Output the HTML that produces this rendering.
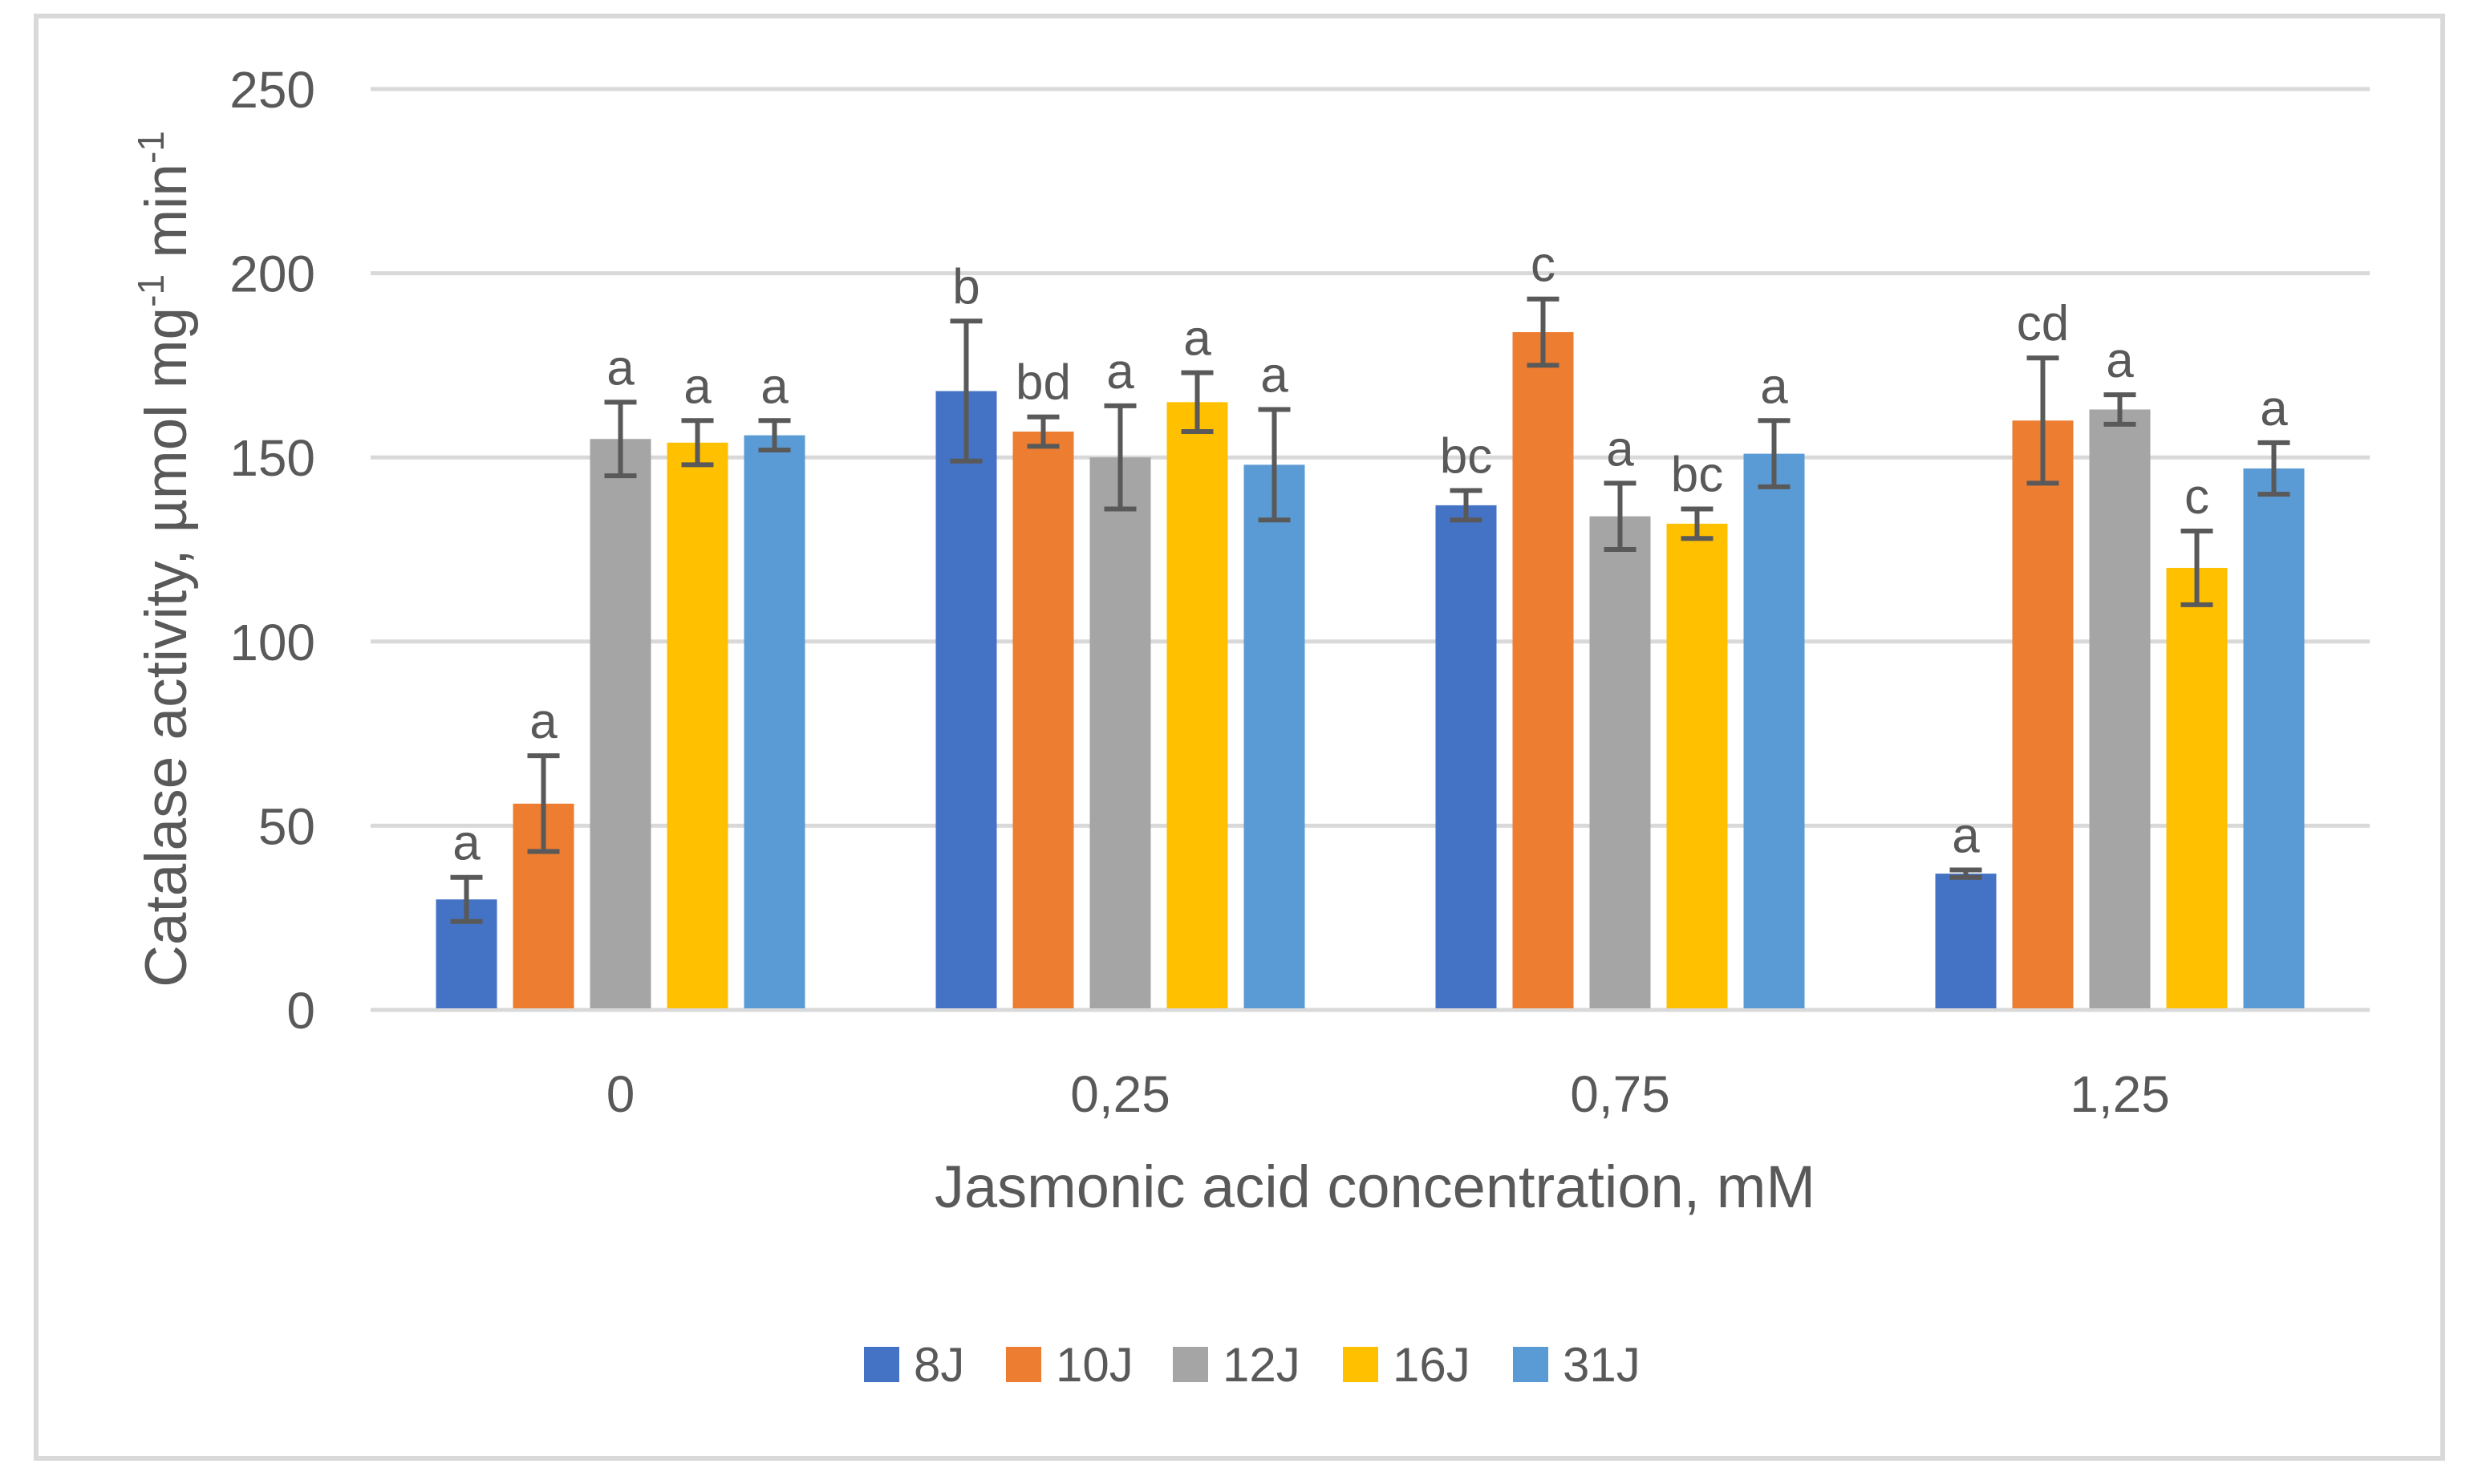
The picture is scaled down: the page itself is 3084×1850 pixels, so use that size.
<!DOCTYPE html>
<html><head><meta charset="utf-8"><style>
html,body{margin:0;padding:0;background:#fff}
svg{display:block}
text{font-family:"Liberation Sans","DejaVu Sans",sans-serif;fill:#595959}
</style></head><body>
<svg id="chart" width="3084" height="1850" viewBox="0 0 3084 1850" xmlns="http://www.w3.org/2000/svg">
<rect x="45" y="20" width="3000" height="1798" fill="#fff" stroke="#d9d9d9" stroke-width="6"/>
<g id="grid"></g><g id="bars"></g><g id="errs"></g><g id="labels"></g>
<text transform="translate(232,697) rotate(-90)" text-anchor="middle" font-size="73">Catalase activity, µmol mg<tspan font-size="46" dy="-28">-1</tspan><tspan dy="28"> min</tspan><tspan font-size="46" dy="-28">-1</tspan></text>
<text x="1714" y="1505" text-anchor="middle" font-size="74">Jasmonic acid concentration, mM</text>
<g id="legend"></g>
</svg>
<script>
const categories = ["0","0,25","0,75","1,25"];
const seriesNames = ["8J","10J","12J","16J","31J"];
const colors = ["#4472c4","#ed7d31","#a5a5a5","#ffc000","#5b9bd5"];
const yTicks = [0,50,100,150,200,250];
const v8J  = [30,168,137,37];
const v10J = [56,157,184,160];
const v12J = [155,150,134,163];
const v16J = [154,165,132,120];
const v31J = [156,148,151,147];
const e8J  = [6,19,4,1];
const e10J = [13,4,9,17];
const e12J = [10,14,9,4];
const e16J = [6,8,4,10];
const e31J = [4,15,9,7];
const l8J  = ["a","b","bc","a"];
const l10J = ["a","bd","c","cd"];
const l12J = ["a","a","a","a"];
const l16J = ["a","a","bc","c"];
const l31J = ["a","a","a","a"];
const values=[v8J,v10J,v12J,v16J,v31J], errs=[e8J,e10J,e12J,e16J,e31J], lets=[l8J,l10J,l12J,l16J,l31J];
const NS="http://www.w3.org/2000/svg";
const X0=462,X1=2954,Y0=1259,Ytop=111,YMAX=250;
const y=v=>Y0-(v/YMAX)*(Y0-Ytop);
const catW=(X1-X0)/categories.length;
const pitch=96,bw=76;
const bx=(c,s)=>X0+catW*(c+0.5)+(s-2)*pitch-bw/2;
function mk(tag,attrs,parent){const e=document.createElementNS(NS,tag);for(const k in attrs)e.setAttribute(k,attrs[k]);document.getElementById(parent).appendChild(e);return e;}
yTicks.forEach(t=>{
  const l=mk('line',{x1:X0,x2:X1,y1:y(t),y2:y(t),stroke:'#d9d9d9','stroke-width':5},'grid');
  
  
  const tx=mk('text',{x:393,y:y(t)+23,'text-anchor':'end','font-size':64},'grid');tx.textContent=t;
  
  
});
categories.forEach((c,ci)=>{
  const tx=mk('text',{x:X0+catW*(ci+0.5),y:1386,'text-anchor':'middle','font-size':64},'labels');tx.textContent=c;
  
  
  values.forEach((arr,si)=>{
    const v=arr[ci],e=errs[si][ci],x=bx(ci,si),cx=x+bw/2;
    const r=mk('rect',{x:x,y:y(v),width:bw,height:Y0-y(v)-2,fill:colors[si]},'bars');
    
    
    const g=mk('path',{d:`M${cx} ${y(v-e)}V${y(v+e)}M${cx-20} ${y(v-e)}H${cx+20}M${cx-20} ${y(v+e)}H${cx+20}`,stroke:'#595959','stroke-width':6,fill:'none'},'errs');
    
    
    const lt=mk('text',{x:cx,y:y(v+e)-22,'text-anchor':'middle','font-size':62},'labels');lt.textContent=lets[si][ci];
    
    
  });
});
const legX=[1077,1254,1462,1674,1886];
seriesNames.forEach((n,i)=>{
  const r=mk('rect',{x:legX[i],y:1679,width:44,height:44,fill:colors[i]},'legend');
  
  
  const t=mk('text',{x:legX[i]+62,y:1722,'font-size':60},'legend');t.textContent=n;
  
  
});
</script>
</body></html>
